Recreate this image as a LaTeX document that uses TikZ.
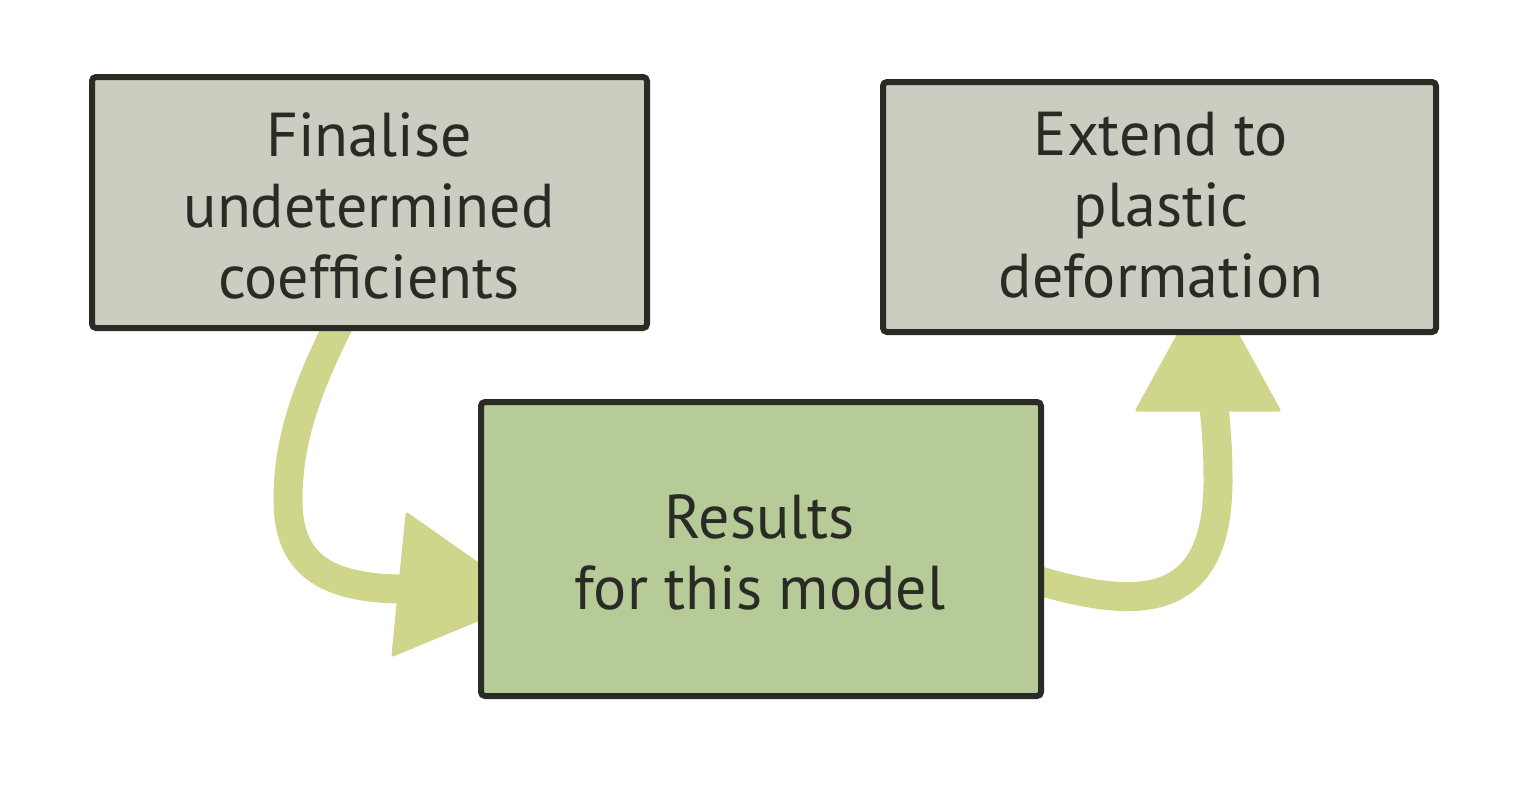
\documentclass[tikz,border=0pt]{standalone}
\usepackage{fontspec}
\setmainfont{PT Sans}
\definecolor{boxgrey}{HTML}{CBCDC0}
\definecolor{boxgreen}{HTML}{B7CB98}
\definecolor{arrowc}{HTML}{CFD58B}
\definecolor{ink}{HTML}{2B2B25}
\begin{document}
\begin{tikzpicture}[x=1pt,y=-1pt,
  box/.style={draw=ink,line width=6pt,rounded corners=4pt},
  label/.style={text=ink,font=\fontsize{62}{71}\selectfont,align=center,inner sep=0pt},
  shaft/.style={draw=arrowc,line width=29pt},
  head/.style={fill=arrowc,draw=arrowc,line width=3pt,line join=round}]
\useasboundingbox (0,0) rectangle (1530,804);
% arrows (behind boxes)
\coordinate (s1) at (342,318);
\coordinate (e1) at (405,589);
\draw[shaft] (s1) .. controls (300,400) and (288,450) .. (288,500) .. controls (288,560) and (320,589) .. (e1);
\fill[head] (407,514) -- (528,599) -- (393,655) -- cycle;
\coordinate (s2) at (1030,578);
\coordinate (e2) at (1214,405);
\draw[shaft] (s2) .. controls (1140,612) and (1218,610) .. (1218,480) .. controls (1218,440) and (1215,420) .. (e2);
\fill[head] (1137,410) -- (1208,281) -- (1279,410) -- cycle;
% boxes
\draw[box,fill=boxgrey] (92,77) rectangle (647,328);
\draw[box,fill=boxgrey] (883,82) rectangle (1436,332);
\draw[box,fill=boxgreen] (481,402) rectangle (1041,696);
\node[label,anchor=base] (a) at (369,298) {Finalise\\undetermined\\coefficients};
\node[label,anchor=base] (b) at (1161,297) {Extend to\\plastic\\deformation};
\node[label,anchor=base] (c) at (760,609) {Results\\for this model};
\end{tikzpicture}
\end{document}
